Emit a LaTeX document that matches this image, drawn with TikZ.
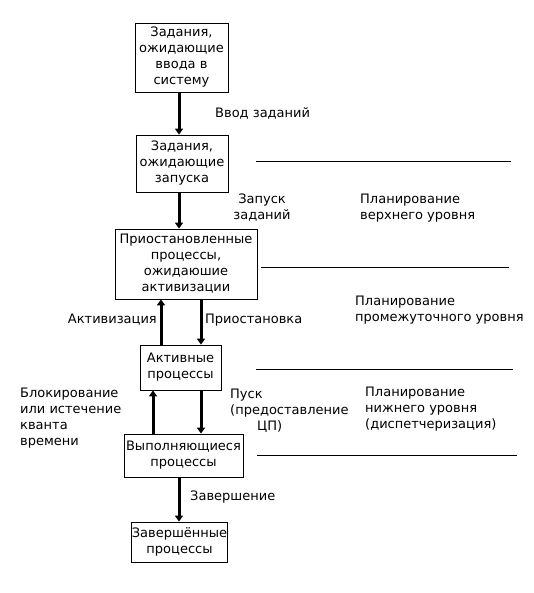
\documentclass[tikz,border=0pt]{standalone}
\usepackage{fontspec}
\setmainfont{DejaVu Sans}
\usetikzlibrary{arrows.meta}
\begin{document}
\begin{tikzpicture}[x=1pt,y=-1pt,
  every node/.style={font=\fontsize{13}{16}\selectfont, inner sep=0pt},
  box/.style={draw, line width=0.8pt, align=center},
  arr/.style={line width=3pt, -{Triangle[length=6pt,width=8pt]}},
  lbl/.style={align=left},
  sep/.style={line width=0.8pt}]
\useasboundingbox (0,0) rectangle (533,593);
% boxes
\node[box, minimum width=93pt, minimum height=69pt] (b1) at (181.5,57.5) {Задания,\\ожидающие\\ввода в\\систему};
\node[box, minimum width=92pt, minimum height=57pt] (b2) at (182,163.5) {Задания,\\ожидающие\\запуска};
\node[box, minimum width=142pt, minimum height=70pt] (b3) at (186,264) {Приостановленные\\процессы,\\ожидаюшие\\активизации};
\node[box, minimum width=81pt, minimum height=45pt] (b4) at (180.5,367.5) {Активные\\процессы};
\node[box, minimum width=119pt, minimum height=43pt] (b5) at (183.5,455.5) {Выполняющиеся\\процессы};
\node[box, minimum width=96pt, minimum height=40pt] (b6) at (179.5,542) {Завершённые\\процессы};
% arrows
\draw[arr] (b1.south -| 179,0) -- (b2.north -| 179,0);
\draw[arr] (b2.south -| 179,0) -- (b3.north -| 179,0);
\draw[arr] (b4.north -| 161,0) -- (b3.south -| 161,0);
\draw[arr] (b3.south -| 201,0) -- (b4.north -| 201,0);
\draw[arr] (b5.north -| 153,0) -- (b4.south -| 153,0);
\draw[arr] (b4.south -| 201,0) -- (b5.north -| 201,0);
\draw[arr] (b5.south -| 179,0) -- (b6.north -| 179,0);
% separator lines
\draw[sep] (256,161) -- (511,161);
\draw[sep] (261,267) -- (509,267);
\draw[sep] (256,369) -- (513,369);
\draw[sep] (257,455) -- (517,455);
% labels
\node[lbl, anchor=west] (l1) at (215,113) {Ввод заданий};
\node[align=center] (l2) at (262,208) {Запуск\\заданий};
\node[lbl, anchor=west] (l3) at (360,208) {Планирование\\верхнего уровня};
\node[lbl, anchor=east] (l4) at (157,320) {Активизация};
\node[lbl, anchor=west] (l5) at (205,320) {Приостановка};
\node[lbl, anchor=west] (l6) at (355,310) {Планирование\\промежуточного уровня};
\node[lbl, anchor=west] (l7) at (20,418) {Блокирование\\или истечение\\кванта\\времени};
\node[lbl, anchor=west] (l8) at (230,411) {Пуск\\(предоставление\\\hspace*{27pt}ЦП)};
\node[lbl, anchor=west] (l9) at (365,409) {Планирование\\нижнего уровня\\(диспетчеризация)};
\node[lbl, anchor=west] (l10) at (190,497) {Завершение};
\end{tikzpicture}
\end{document}
